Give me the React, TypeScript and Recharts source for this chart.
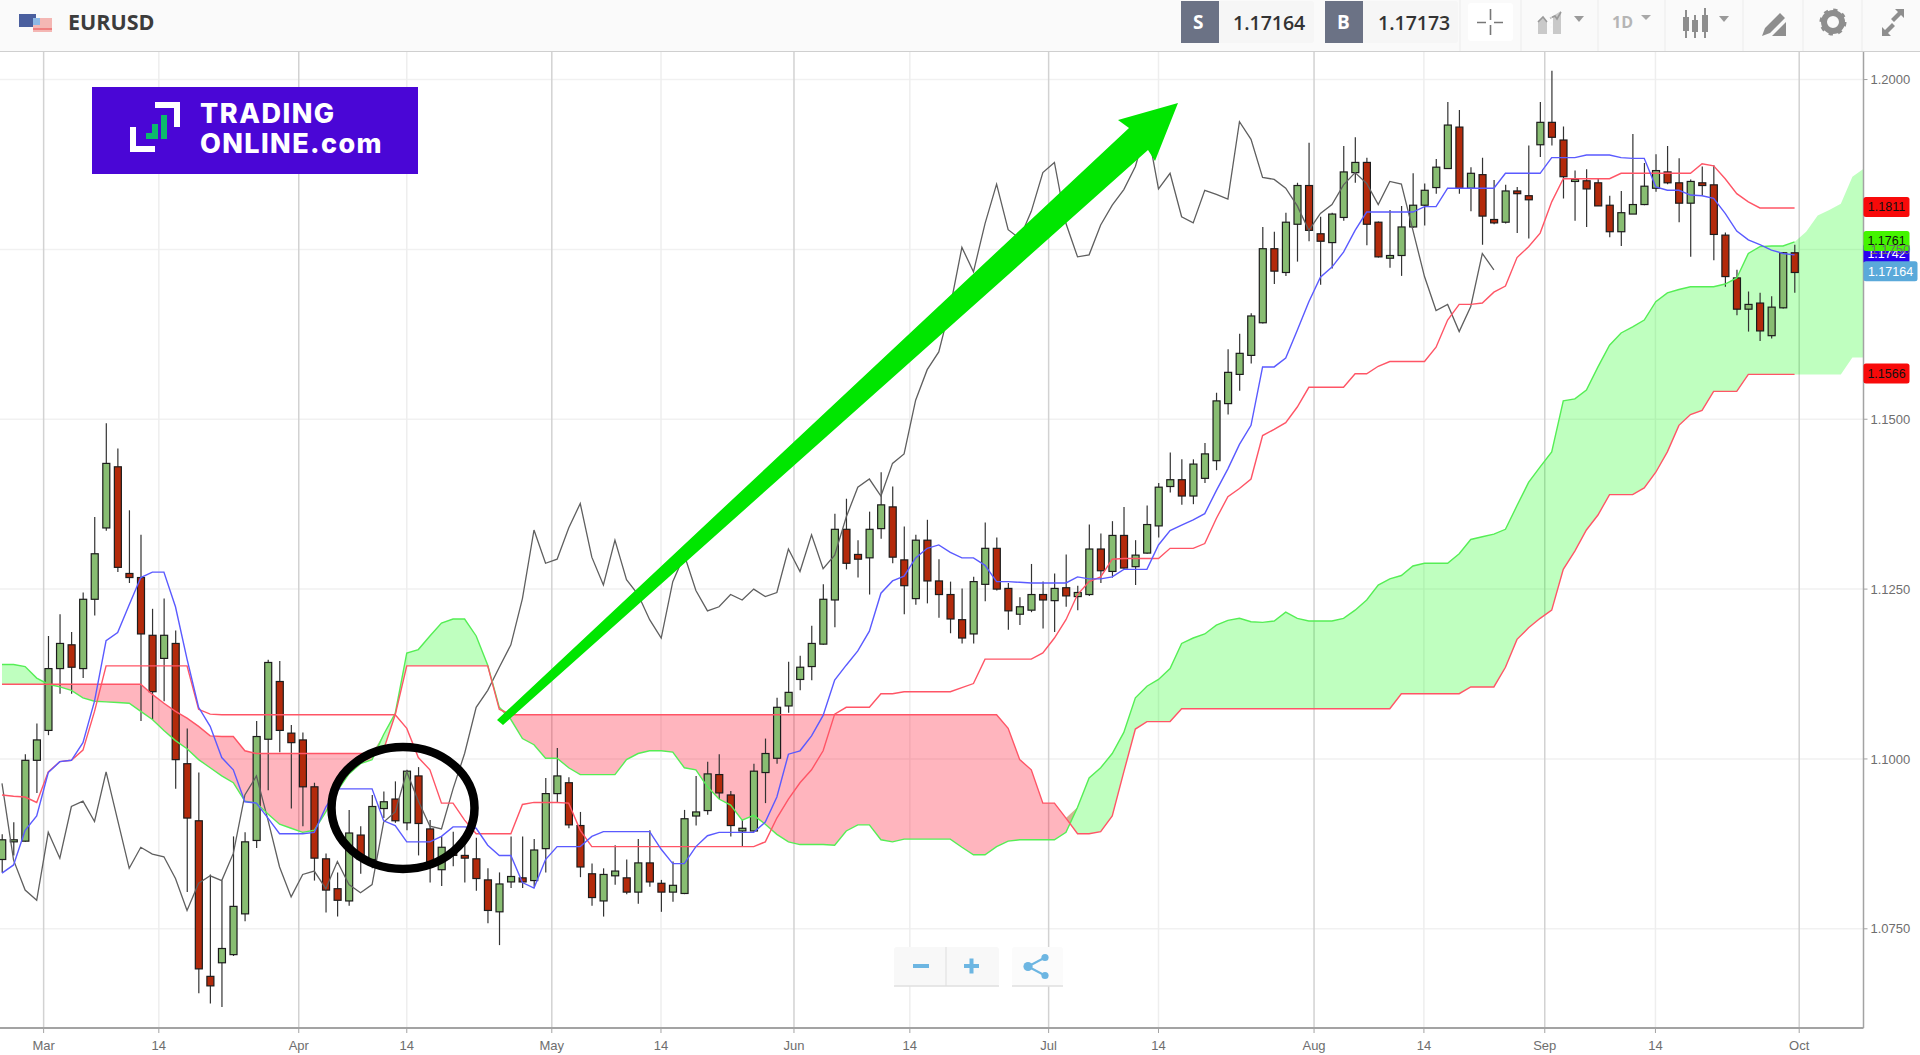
import { Area, Bar, CartesianGrid, ComposedChart, Line, ReferenceDot, XAxis, YAxis } from "recharts";

const FONT = "'Liberation Sans', Arial, sans-serif";

// Daily EURUSD candles, Mar to Oct
const opens = [
  1.0852,1.0878,1.0879,1.0998,1.1042,1.1133,1.1168,1.1133,1.1235,1.1340,
  1.1430,1.1273,1.1267,1.1182,1.1148,1.1170,1.0993,1.0909,1.0680,1.0700,
  1.0712,1.0772,1.0880,1.1029,1.1114,1.1038,1.1028,1.0959,1.0853,1.0809,
  1.0791,1.0888,1.0852,1.0927,1.0941,1.0906,1.0975,1.0897,1.0837,1.0865,
  1.0858,1.0853,1.0822,1.0775,1.0819,1.0825,1.0821,1.0868,1.0949,1.0965,
  1.0902,1.0831,1.0791,1.0828,1.0825,1.0804,1.0847,1.0817,1.0804,1.0802,
  1.0916,1.0924,1.0977,1.0947,1.0894,1.0894,1.0980,1.1001,1.1078,1.1117,
  1.1136,1.1169,1.1234,1.1338,1.1301,1.1296,1.1339,1.1371,1.1293,1.1236,
  1.1322,1.1262,1.1242,1.1205,1.1184,1.1257,1.1310,1.1251,1.1213,1.1219,
  1.1242,1.1233,1.1252,1.1239,1.1242,1.1309,1.1276,1.1329,1.1283,1.1303,
  1.1343,1.1401,1.1411,1.1387,1.1413,1.1439,1.1523,1.1566,1.1594,1.1642,
  1.1751,1.1716,1.1787,1.1844,1.1773,1.1760,1.1797,1.1863,1.1878,1.1790,
  1.1737,1.1741,1.1783,1.1815,1.1841,1.1869,1.1930,1.1840,1.1860,1.1794,
  1.1790,1.1836,1.1829,1.1904,1.1937,1.1911,1.1850,1.1851,1.1848,1.1815,
  1.1776,1.1802,1.1816,1.1840,1.1864,1.1848,1.1818,1.1848,1.1845,1.1771,
  1.1708,1.1662,1.1671,1.1623,1.1664,1.1745,
];
const closes = [
  1.0881,1.0881,1.0998,1.1028,1.1133,1.1170,1.1135,1.1235,1.1302,1.1435,
  1.1282,1.1267,1.1184,1.1099,1.1182,1.0999,1.0913,1.0691,1.0666,1.0721,
  1.0783,1.0878,1.1033,1.1142,1.1042,1.1024,1.0959,1.0854,1.0807,1.0792,
  1.0891,1.0852,1.0930,1.0937,1.0909,1.0982,1.0905,1.0849,1.0870,1.0858,
  1.0854,1.0824,1.0777,1.0816,1.0827,1.0819,1.0866,1.0949,1.0975,1.0903,
  1.0841,1.0796,1.0830,1.0835,1.0804,1.0847,1.0819,1.0804,1.0814,1.0912,
  1.0922,1.0978,1.0950,1.0902,1.0898,1.0982,1.1008,1.1076,1.1098,1.1135,
  1.1170,1.1235,1.1338,1.1288,1.1294,1.1338,1.1374,1.1297,1.1255,1.1322,
  1.1262,1.1242,1.1206,1.1178,1.1261,1.1310,1.1250,1.1218,1.1224,1.1242,
  1.1234,1.1251,1.1240,1.1245,1.1309,1.1277,1.1329,1.1281,1.1300,1.1345,
  1.1400,1.1411,1.1387,1.1434,1.1449,1.1527,1.1569,1.1597,1.1652,1.1751,
  1.1718,1.1790,1.1844,1.1778,1.1762,1.1802,1.1864,1.1878,1.1787,1.1739,
  1.1741,1.1783,1.1815,1.1837,1.1871,1.1933,1.1840,1.1862,1.1799,1.1789,
  1.1836,1.1832,1.1823,1.1937,1.1915,1.1857,1.1853,1.1839,1.1814,1.1776,
  1.1804,1.1816,1.1843,1.1866,1.1848,1.1818,1.1850,1.1844,1.1772,1.1710,
  1.1662,1.1669,1.1630,1.1665,1.1745,1.1716,
];
const highs = [
  1.0889,1.0907,1.1007,1.1052,1.1181,1.1213,1.1187,1.1245,1.1356,1.1494,
  1.1457,1.1366,1.1330,1.1221,1.1236,1.1189,1.1045,1.0980,1.0830,1.0821,
  1.0886,1.0892,1.1056,1.1146,1.1144,1.1050,1.1039,1.0965,1.0861,1.0833,
  1.0925,1.0901,1.0947,1.0952,1.0967,1.0984,1.0988,1.0910,1.0886,1.0893,
  1.0876,1.0884,1.0839,1.0833,1.0886,1.0886,1.0882,1.0972,1.1016,1.0973,
  1.0922,1.0846,1.0839,1.0873,1.0852,1.0882,1.0895,1.0822,1.0849,1.0925,
  1.0975,1.0996,1.1007,1.0953,1.0910,1.0993,1.1030,1.1090,1.1143,1.1152,
  1.1196,1.1257,1.1361,1.1383,1.1322,1.1364,1.1422,1.1401,1.1342,1.1330,
  1.1352,1.1294,1.1261,1.1251,1.1268,1.1348,1.1326,1.1259,1.1238,1.1287,
  1.1261,1.1273,1.1301,1.1255,1.1345,1.1332,1.1350,1.1371,1.1322,1.1373,
  1.1406,1.1451,1.1441,1.1441,1.1465,1.1539,1.1603,1.1626,1.1656,1.1783,
  1.1776,1.1804,1.1848,1.1907,1.1798,1.1804,1.1902,1.1915,1.1885,1.1791,
  1.1808,1.1814,1.1862,1.1847,1.1883,1.1967,1.1955,1.1871,1.1885,1.1852,
  1.1845,1.1842,1.1903,1.1967,1.2013,1.1931,1.1866,1.1868,1.1855,1.1829,
  1.1836,1.1920,1.1877,1.1890,1.1902,1.1884,1.1853,1.1872,1.1874,1.1775,
  1.1720,1.1688,1.1686,1.1681,1.1746,1.1757,
];
const lows = [
  1.0833,1.0858,1.0878,1.0950,1.1035,1.1096,1.1096,1.1119,1.1211,1.1336,
  1.1275,1.1259,1.1056,1.1058,1.1085,1.0956,1.0804,1.0655,1.0640,1.0635,
  1.0710,1.0761,1.0869,1.0954,1.1010,1.0927,1.0901,1.0821,1.0774,1.0768,
  1.0784,1.0831,1.0839,1.0913,1.0906,1.0895,1.0858,1.0818,1.0813,1.0842,
  1.0818,1.0806,1.0758,1.0726,1.0810,1.0810,1.0812,1.0833,1.0935,1.0898,
  1.0826,1.0784,1.0768,1.0815,1.0801,1.0787,1.0812,1.0775,1.0790,1.0801,
  1.0902,1.0918,1.0941,1.0886,1.0871,1.0893,1.0935,1.0993,1.1068,1.1101,
  1.1116,1.1168,1.1194,1.1279,1.1267,1.1242,1.1324,1.1288,1.1213,1.1227,
  1.1229,1.1208,1.1185,1.1170,1.1170,1.1232,1.1248,1.1190,1.1197,1.1216,
  1.1192,1.1187,1.1224,1.1219,1.1240,1.1259,1.1267,1.1280,1.1256,1.1302,
  1.1326,1.1392,1.1374,1.1375,1.1406,1.1425,1.1507,1.1542,1.1582,1.1641,
  1.1699,1.1711,1.1732,1.1762,1.1698,1.1722,1.1792,1.1848,1.1756,1.1738,
  1.1723,1.1711,1.1782,1.1785,1.1832,1.1869,1.1832,1.1806,1.1757,1.1787,
  1.1788,1.1774,1.1766,1.1886,1.1903,1.1825,1.1792,1.1783,1.1814,1.1768,
  1.1755,1.1802,1.1815,1.1835,1.1846,1.1790,1.1739,1.1829,1.1734,1.1695,
  1.1653,1.1629,1.1615,1.1619,1.1663,1.1686,
];

// Ichimoku lines
const tenkan = [
  1.0832,1.0844,1.0895,1.0916,1.0980,1.0996,1.0998,1.1024,1.1085,1.1174,
  1.1186,1.1227,1.1267,1.1275,1.1275,1.1224,1.1147,1.1076,1.1048,1.1002,
  1.0984,1.0937,1.0935,1.0913,1.0890,1.0890,1.0890,1.0892,1.0929,1.0956,
  1.0956,1.0956,1.0956,1.0909,1.0902,1.0878,1.0878,1.0878,1.0886,1.0900,
  1.0900,1.0898,1.0873,1.0858,1.0858,1.0818,1.0810,1.0852,1.0871,1.0871,
  1.0871,1.0886,1.0893,1.0893,1.0893,1.0893,1.0893,1.0867,1.0846,1.0846,
  1.0871,1.0887,1.0892,1.0892,1.0892,1.0892,1.0907,1.0944,1.1007,1.1012,
  1.1034,1.1064,1.1116,1.1138,1.1159,1.1188,1.1244,1.1262,1.1269,1.1296,
  1.1310,1.1315,1.1304,1.1296,1.1296,1.1285,1.1261,1.1261,1.1260,1.1259,
  1.1259,1.1259,1.1259,1.1268,1.1265,1.1265,1.1268,1.1279,1.1279,1.1279,
  1.1315,1.1336,1.1344,1.1352,1.1361,1.1395,1.1427,1.1463,1.1491,1.1577,
  1.1577,1.1590,1.1631,1.1673,1.1709,1.1724,1.1746,1.1778,1.1805,1.1805,
  1.1805,1.1805,1.1805,1.1813,1.1813,1.1840,1.1840,1.1840,1.1840,1.1840,
  1.1862,1.1862,1.1862,1.1862,1.1885,1.1885,1.1885,1.1889,1.1889,1.1889,
  1.1885,1.1884,1.1884,1.1842,1.1837,1.1837,1.1830,1.1829,1.1825,1.1803,
  1.1777,1.1764,1.1757,1.1749,1.1744,1.1742,
];
const kijun = [
  1.0947,1.0945,1.0944,1.0936,1.0981,1.0996,1.0998,1.1013,1.1070,1.1137,
  1.1137,1.1137,1.1137,1.1137,1.1137,1.1137,1.1137,1.1073,1.1066,1.1065,
  1.1065,1.1065,1.1065,1.1065,1.1065,1.1065,1.1065,1.1065,1.1065,1.1065,
  1.1065,1.1065,1.1065,1.1065,1.1065,1.1045,1.1002,1.0984,1.0935,1.0935,
  1.0910,1.0890,1.0890,1.0890,1.0890,1.0933,1.0936,1.0936,1.0936,1.0935,
  1.0895,1.0871,1.0871,1.0871,1.0871,1.0871,1.0871,1.0871,1.0871,1.0871,
  1.0871,1.0871,1.0871,1.0871,1.0871,1.0871,1.0878,1.0913,1.0941,1.0965,
  1.0984,1.1012,1.1066,1.1076,1.1076,1.1076,1.1096,1.1096,1.1099,1.1099,
  1.1099,1.1099,1.1099,1.1105,1.1111,1.1147,1.1147,1.1147,1.1147,1.1147,
  1.1156,1.1178,1.1205,1.1242,1.1261,1.1268,1.1294,1.1295,1.1295,1.1295,
  1.1295,1.1310,1.1310,1.1310,1.1317,1.1354,1.1386,1.1398,1.1412,1.1476,
  1.1485,1.1495,1.1518,1.1547,1.1547,1.1547,1.1547,1.1567,1.1567,1.1578,
  1.1585,1.1585,1.1585,1.1585,1.1606,1.1646,1.1669,1.1669,1.1671,1.1687,
  1.1696,1.1738,1.1754,1.1774,1.1820,1.1854,1.1854,1.1854,1.1854,1.1854,
  1.1862,1.1862,1.1862,1.1862,1.1862,1.1862,1.1862,1.1876,1.1873,1.1854,
  1.1832,1.1820,1.1811,1.1811,1.1811,1.1811,
];
const spanA = [
  1.1139,1.1139,1.1136,1.1119,1.1110,1.1106,1.1101,1.1090,1.1085,1.1084,
  1.1083,1.1082,1.1070,1.1058,1.1042,1.1027,1.1015,1.0999,1.0987,1.0975,
  1.0965,1.0938,1.0935,1.0919,1.0904,1.0898,1.0892,1.0895,1.0922,1.0953,
  1.0978,1.0993,1.0999,1.1036,1.1067,1.1156,1.1161,1.1181,1.1200,1.1206,
  1.1206,1.1181,1.1138,1.1076,1.1058,1.1030,1.1021,1.1001,1.1001,1.0987,
  1.0977,1.0977,1.0977,1.0977,1.0999,1.1008,1.1012,1.1012,1.1010,1.0987,
  1.0984,1.0959,1.0941,1.0932,1.0910,1.0917,1.0904,1.0889,1.0878,1.0874,
  1.0874,1.0874,1.0873,1.0894,1.0903,1.0903,1.0881,1.0878,1.0882,1.0882,
  1.0882,1.0882,1.0882,1.0870,1.0859,1.0859,1.0871,1.0879,1.0881,1.0881,
  1.0881,1.0881,1.0892,1.0929,1.0972,1.0987,1.1008,1.1039,1.1090,1.1107,
  1.1117,1.1133,1.1170,1.1178,1.1184,1.1197,1.1204,1.1207,1.1202,1.1201,
  1.1203,1.1216,1.1207,1.1203,1.1203,1.1203,1.1207,1.1219,1.1234,1.1256,
  1.1265,1.1270,1.1284,1.1288,1.1288,1.1288,1.1302,1.1323,1.1327,1.1331,
  1.1338,1.1373,1.1407,1.1430,1.1452,1.1527,1.1530,1.1543,1.1577,1.1609,
  1.1627,1.1636,1.1646,1.1673,1.1686,1.1691,1.1695,1.1695,1.1695,1.1699,
  1.1708,1.1744,1.1754,1.1755,1.1755,1.1761,1.1776,1.1800,1.1808,1.1817,
  1.1857,1.1869,
];
const spanB = [
  1.1110,1.1110,1.1110,1.1110,1.1110,1.1110,1.1110,1.1110,1.1110,1.1110,
  1.1110,1.1110,1.1110,1.1095,1.1082,1.1070,1.1060,1.1048,1.1034,1.1033,
  1.1033,1.1012,1.1008,1.1008,1.1008,1.1008,1.1008,1.1008,1.1008,1.1008,
  1.1008,1.1008,1.1008,1.1014,1.1065,1.1137,1.1137,1.1137,1.1137,1.1137,
  1.1137,1.1137,1.1137,1.1073,1.1065,1.1065,1.1065,1.1065,1.1065,1.1065,
  1.1065,1.1065,1.1065,1.1065,1.1065,1.1065,1.1065,1.1065,1.1065,1.1065,
  1.1065,1.1065,1.1065,1.1065,1.1065,1.1065,1.1065,1.1065,1.1065,1.1065,
  1.1065,1.1065,1.1065,1.1065,1.1065,1.1065,1.1065,1.1065,1.1065,1.1065,
  1.1065,1.1065,1.1065,1.1065,1.1065,1.1065,1.1065,1.1045,1.0999,1.0984,
  1.0935,1.0935,1.0913,1.0890,1.0890,1.0893,1.0916,1.0981,1.1044,1.1055,
  1.1055,1.1055,1.1074,1.1074,1.1074,1.1074,1.1074,1.1074,1.1074,1.1074,
  1.1074,1.1074,1.1074,1.1074,1.1074,1.1074,1.1074,1.1074,1.1074,1.1074,
  1.1074,1.1096,1.1096,1.1096,1.1096,1.1096,1.1096,1.1106,1.1106,1.1106,
  1.1135,1.1176,1.1193,1.1207,1.1219,1.1279,1.1306,1.1337,1.1359,1.1389,
  1.1389,1.1389,1.1399,1.1422,1.1452,1.1491,1.1507,1.1513,1.1541,1.1541,
  1.1541,1.1566,1.1566,1.1566,1.1566,1.1566,1.1566,1.1566,1.1566,1.1566,
  1.1591,1.1591,
];
const chikou = [
  1.0964,1.0851,1.0807,1.0792,1.0892,1.0854,1.0930,1.0938,1.0908,1.0981,
  1.0910,1.0839,1.0870,1.0860,1.0856,1.0824,1.0777,1.0817,1.0828,1.0821,
  1.0861,1.0947,1.0975,1.0910,1.0841,1.0797,1.0830,1.0835,1.0809,1.0849,
  1.0815,1.0803,1.0815,1.0907,1.0922,1.0981,1.0938,1.0901,1.0897,1.0956,
  1.1008,1.1076,1.1101,1.1135,1.1168,1.1236,1.1337,1.1288,1.1294,1.1340,
  1.1376,1.1297,1.1256,1.1322,1.1264,1.1242,1.1205,1.1178,1.1261,1.1300,
  1.1248,1.1218,1.1224,1.1242,1.1234,1.1250,1.1239,1.1245,1.1309,1.1276,
  1.1330,1.1280,1.1300,1.1356,1.1400,1.1412,1.1387,1.1435,1.1449,1.1528,
  1.1573,1.1599,1.1666,1.1753,1.1717,1.1788,1.1846,1.1779,1.1766,1.1806,
  1.1863,1.1878,1.1788,1.1739,1.1742,1.1786,1.1815,1.1838,1.1872,1.1931,
  1.1839,1.1862,1.1798,1.1789,1.1837,1.1831,1.1824,1.1938,1.1912,1.1856,
  1.1853,1.1840,1.1814,1.1778,1.1803,1.1816,1.1845,1.1863,1.1847,1.1816,
  1.1850,1.1846,1.1778,1.1710,1.1660,1.1669,1.1629,1.1666,1.1744,1.1720,
];

// Date axis: tick positions are in candle numbers
const dateTicks = [3.6,13.56,25.66,35,47.54,56.98,68.48,78.5,90.5,100,113.45,122.95,133.4,142.97,155.4];
const dateLabels = ["Mar","14","Apr","14","May","14","Jun","14","Jul","14","Aug","14","Sep","14","Oct"];
const priceTicks = [1.075,1.1,1.125,1.15,1.175,1.2];

const monthLines = dateTicks.filter((_, n) => dateLabels[n] !== "14");
const midLines = dateTicks.filter((_, n) => dateLabels[n] === "14");

const tags = [
  { value: 1.1811, text: "1.1811", bg: "#f80a0a", fg: "#111", w: 46 },
  { value: 1.1566, text: "1.1566", bg: "#f80a0a", fg: "#111", w: 46 },
  { value: 1.1742, text: "1.1742", bg: "#2a00f0", fg: "#fff", w: 46 },
  { value: 1.1761, text: "1.1761", bg: "#44f500", fg: "#111", w: 46 },
  { value: 1.17164, text: "1.17164", bg: "#5aa9da", fg: "#fff", w: 54 },
];

const rows = spanA.map((a, i) => {
  const b = spanB[i];
  return {
    i,
    open: opens[i],
    close: closes[i],
    range: highs[i] === undefined ? null : [lows[i], highs[i]],
    tenkan: tenkan[i] ?? null,
    kijun: kijun[i] ?? null,
    chikou: chikou[i] ?? null,
    lineA: i <= 155 ? a : null,
    lineB: i <= 155 ? b : null,
    bull: [b, Math.max(a, b)],
    bear: [a, Math.max(a, b)],
  };
});

function Candle(props: any) {
  const { x, y, width, height, payload } = props;
  if (!payload.range) return null;
  const [low, high] = payload.range;
  const toY = (p: number) => y + ((high - p) / (high - low)) * height;
  const up = payload.close >= payload.open;
  const top = toY(Math.max(payload.open, payload.close));
  const bottom = toY(Math.min(payload.open, payload.close));
  const cx = x + width / 2;
  return (
    <g>
      <line x1={cx} x2={cx} y1={y} y2={y + height} stroke="#333" strokeWidth={1.2} />
      <rect
        x={x + 0.5}
        y={top}
        width={width - 1}
        height={Math.max(bottom - top, 1)}
        fill={up ? "#88bd72" : "#b32a0b"}
        stroke="#1c1c1c"
        strokeWidth={1.2}
      />
    </g>
  );
}

function PriceTag(props: any) {
  const { cx, cy, tag } = props;
  const top = cy - 11;
  return (
    <g>
      <rect x={cx} y={top} width={tag.w} height={20} rx={2.5} fill={tag.bg} />
      <text x={cx + tag.w / 2} y={top + 14.5} textAnchor="middle" fontSize={12.5} fontFamily={FONT} fill={tag.fg}>
        {tag.text}
      </text>
    </g>
  );
}

function Toolbar() {
  const sep = [1460, 1521, 1598, 1665, 1743, 1803, 1862];
  const gray = "#8e8e8e";
  return (
    <div style={{ position: "absolute", left: 0, top: 0, width: 1920, height: 51, background: "#fafafa", borderBottom: "1px solid #cfcfcf", fontFamily: "'Open Sans', sans-serif" }}>
      <svg width={1920} height={51} style={{ position: "absolute", left: 0, top: 0 }}>
        {/* flags */}
        <rect x={19} y={14} width={17} height={13} fill="#4a5f9e" />
        <rect x={33} y={18} width={19} height={14} fill="#f4b7b4" />
        <rect x={33} y={18} width={7} height={7} fill="#8db8e4" />
        <rect x={33} y={28} width={19} height={2} fill="#ef7f7f" />
        {sep.map((x) => <line key={x} x1={x} x2={x} y1={0} y2={51} stroke="#ececec" />)}
        {/* sell / buy */}
        <rect x={1181} y={1} width={133} height={42} rx={3} fill="#f6f6f6" />
        <rect x={1181} y={1} width={38} height={42} fill="#6b7285" />
        <rect x={1325} y={1} width={133} height={42} rx={3} fill="#f6f6f6" />
        <rect x={1325} y={1} width={38} height={42} fill="#6b7285" />
        {/* crosshair button */}
        <rect x={1468} y={3} width={45} height={38} rx={3} fill="#fff" />
        <path d="M1490.5 9v11M1490.5 25v10M1477 22.5h9M1494 22.5h9" stroke="#777" strokeWidth={1.6} />
        {/* compare icon */}
        <path d="M1538 34v-13l5-4 4 5v12zM1553 34v-18l8-5v23z" fill="#c9c9c9" />
        <path d="M1538 22l5-5 4 5M1550 18l5-2 2 3 4-7" stroke="#999" strokeWidth={1.6} fill="none" />
        <line x1={1551} x2={1551} y1={12} y2={36} stroke="#fff" strokeDasharray="2 2" />
        <path d="M1574 16h10l-5 6z" fill="#9a9a9a" />
        <path d="M1641 15h10l-5 5z" fill="#a8a8a8" />
        {/* candles icon */}
        <path d="M1686 10v28M1695 15v23M1705 8v30" stroke={gray} strokeWidth={2} />
        <rect x={1683} y={17} width={6} height={14} fill={gray} />
        <rect x={1692} y={20} width={6} height={12} fill={gray} />
        <rect x={1702} y={15} width={6} height={17} fill={gray} />
        <path d="M1719 16h10l-5 6z" fill="#9a9a9a" />
        {/* pencil */}
        <path d="M1762 36l3-8 15-15 5 5-15 15zM1772 36l14-14v14z" fill={gray} />
        {/* gear */}
        <circle cx={1833} cy={22} r={9} fill="none" stroke={gray} strokeWidth={6} />
        <circle cx={1833} cy={22} r={12} fill="none" stroke={gray} strokeWidth={3} strokeDasharray="4.2 5.2" />
        {/* expand */}
        <path d="M1904 9h-9l3 3-7 7 3 3 7-7 3 3zM1882 36h9l-3-3 7-7-3-3-7 7-3-3z" fill={gray} />
      </svg>
      <span style={{ position: "absolute", left: 68, top: 7, fontSize: 21.5, fontWeight: 700, color: "#3c3c3c" }}>EURUSD</span>
      <span style={{ position: "absolute", left: 1193, top: 9, fontSize: 19, fontWeight: 700, color: "#fff" }}>S</span>
      <span style={{ position: "absolute", left: 1337, top: 9, fontSize: 19, fontWeight: 700, color: "#fff" }}>B</span>
      <span style={{ position: "absolute", left: 1233, top: 9, fontSize: 19.5, fontWeight: 600, color: "#333" }}>1.17164</span>
      <span style={{ position: "absolute", left: 1378, top: 9, fontSize: 19.5, fontWeight: 600, color: "#333" }}>1.17173</span>
      <span style={{ position: "absolute", left: 1612, top: 11, fontSize: 16, fontWeight: 700, color: "#b5b5b5" }}>1D</span>
    </div>
  );
}

function Logo() {
  return (
    <div style={{ position: "absolute", left: 92, top: 87, width: 326, height: 87, background: "#4a06d6", color: "#fff", fontFamily: "Inter, sans-serif", fontWeight: 800, lineHeight: 1 }}>
      <svg width={326} height={87} style={{ position: "absolute", left: 0, top: 0 }}>
        <path d="M63 15h25v25h-6v-19h-19zM63 65h-25v-25h6v19h19z" fill="#fff" />
        <rect x={54} y={46} width={6} height={6} fill="#0cba6c" />
        <rect x={60} y={37} width={6} height={15} fill="#0cba6c" />
        <rect x={69} y={28} width={6} height={24} fill="#0cba6c" />
      </svg>
      <span style={{ position: "absolute", left: 108, top: 13, fontSize: 27, letterSpacing: 1.5 }}>TRADING</span>
      <span style={{ position: "absolute", left: 108, top: 43, fontSize: 27, letterSpacing: 1.4 }}>ONLINE.com</span>
    </div>
  );
}

function ZoomControls() {
  const blue = "#6db6e2";
  return (
    <svg width={180} height={44} style={{ position: "absolute", left: 890, top: 945 }}>
      <rect x={4} y={2} width={105} height={39} rx={3} fill="#f8f8f8" />
      <rect x={122} y={2} width={51} height={39} rx={3} fill="#fbfbfb" />
      <path d="M4 41h105M122 41h51" stroke="#dfdfdf" strokeWidth={1.5} />
      <line x1={56} x2={56} y1={2} y2={41} stroke="#dedede" />
      <rect x={23} y={19} width={16} height={4} fill={blue} />
      <path d="M74 19h15v4h-15zM79.5 13.5h4v15h-4z" fill={blue} />
      <path d="M138 21.5l17-9M138 21.5l17 9" stroke={blue} strokeWidth={2} />
      <circle cx={138} cy={21.5} r={4.6} fill={blue} />
      <circle cx={155} cy={12.5} r={3.6} fill={blue} />
      <circle cx={155} cy={30.5} r={3.6} fill={blue} />
    </svg>
  );
}

// Hand drawn markup over the chart: the arrow and the circle
function Markup() {
  return (
    <svg width={1920} height={1055} style={{ position: "absolute", left: 0, top: 0, pointerEvents: "none" }}>
      <polygon
        points="497,720 1129,128 1118,120 1178,103 1155,161 1148,150 503,725"
        fill="#00e600"
      />
      <ellipse cx={403} cy={808} rx={71.5} ry={61} fill="none" stroke="#000" strokeWidth={8.5} />
    </svg>
  );
}

export default function App() {
  return (
    <div style={{ position: "absolute", left: 0, top: 0, width: 1920, height: 1055, background: "#fff", overflow: "hidden" }}>
      <ComposedChart width={1920} height={1055} data={rows} margin={{ top: 51, right: 0, bottom: 0, left: 0 }}>
        <CartesianGrid vertical={false} horizontalValues={priceTicks} stroke="#f1f1f1" strokeWidth={1.5} />
        <CartesianGrid horizontal={false} verticalValues={midLines} stroke="#eeeeee" strokeWidth={1.5} />
        <CartesianGrid horizontal={false} verticalValues={monthLines} stroke="#d2d2d2" strokeWidth={1.5} />
        <XAxis
          dataKey="i"
          type="number"
          domain={[-0.173, 160.96]}
          allowDataOverflow
          ticks={dateTicks}
          interval={0}
          height={27}
          tickFormatter={(v) => dateLabels[dateTicks.indexOf(v)]}
          tick={{ fontSize: 13, fill: "#6e6e6e", fontFamily: FONT }}
          axisLine={{ stroke: "#a3a3a3", strokeWidth: 2 }}
          tickLine={{ stroke: "#a3a3a3" }}
          tickSize={5}
          tickMargin={8}
        />
        <YAxis
          orientation="right"
          width={56.5}
          domain={[1.0604, 1.2042]}
          allowDataOverflow
          ticks={priceTicks}
          interval={0}
          tickFormatter={(v) => v.toFixed(4)}
          tick={{ fontSize: 13, fill: "#6e6e6e", fontFamily: FONT }}
          axisLine={{ stroke: "#a3a3a3", strokeWidth: 1.5 }}
          tickLine={{ stroke: "#a3a3a3" }}
          tickSize={4}
          tickMargin={3}
        />
        <Bar dataKey="range" barSize={8} shape={<Candle />} isAnimationActive={false} />
        <Area dataKey="bull" stroke="none" fill="#00ff00" fillOpacity={0.25} dot={false} activeDot={false} isAnimationActive={false} />
        <Area dataKey="bear" stroke="none" fill="#ff0a28" fillOpacity={0.3} dot={false} activeDot={false} isAnimationActive={false} />
        <Line dataKey="chikou" stroke="#5f5f5f" strokeWidth={1.3} dot={false} isAnimationActive={false} />
        <Line dataKey="lineA" stroke="#55ee55" strokeWidth={1.4} dot={false} isAnimationActive={false} />
        <Line dataKey="lineB" stroke="#ff5566" strokeWidth={1.4} dot={false} isAnimationActive={false} />
        <Line dataKey="kijun" stroke="#ff5566" strokeWidth={1.4} dot={false} isAnimationActive={false} />
        <Line dataKey="tenkan" stroke="#5a5aff" strokeWidth={1.4} dot={false} isAnimationActive={false} />
        {tags.map((tag) => (
          <ReferenceDot
            key={tag.text}
            x={160.96}
            y={tag.value}
            ifOverflow="visible"
            shape={(p: any) => <PriceTag {...p} tag={tag} />}
          />
        ))}
      </ComposedChart>
      <Toolbar />
      <Logo />
      <ZoomControls />
      <Markup />
    </div>
  );
}
